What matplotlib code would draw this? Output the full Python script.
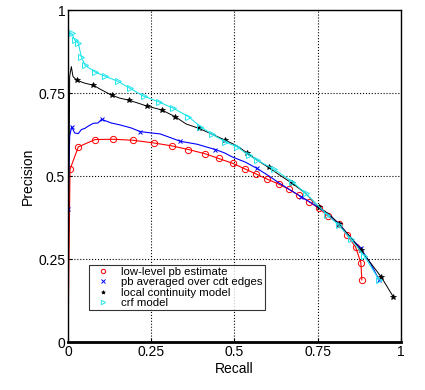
import matplotlib
matplotlib.use("Agg")
import matplotlib.pyplot as plt

plt.rcParams['font.family'] = ['Liberation Sans', 'DejaVu Sans']

labels = ["low-level pb estimate", "pb averaged over cdt edges",
          "local continuity model", "crf model"]

red_r = [0, 0, 0.006, 0.031, 0.081, 0.135, 0.195, 0.257, 0.312, 0.362, 0.413, 0.453,
         0.496, 0.533, 0.566, 0.598, 0.633, 0.664, 0.694, 0.724, 0.754, 0.781, 0.814,
         0.839, 0.864, 0.880, 0.883]
red_p = [1.0, 0, 0.52, 0.588, 0.61, 0.611, 0.608, 0.600, 0.591, 0.580, 0.567, 0.553,
         0.538, 0.521, 0.506, 0.491, 0.476, 0.460, 0.442, 0.423, 0.403, 0.380, 0.355,
         0.322, 0.287, 0.239, 0.187]

blue_r = [0, 0, 0.005, 0.011, 0.02, 0.031, 0.04, 0.051, 0.06, 0.076, 0.09, 0.101, 0.13,
          0.157, 0.19, 0.217, 0.25, 0.277, 0.31, 0.337, 0.365, 0.388, 0.415, 0.443, 0.47,
          0.493, 0.533, 0.568, 0.603, 0.633, 0.668, 0.70, 0.73, 0.757, 0.785, 0.815,
          0.844, 0.88, 0.91, 0.935]
blue_p = [0, 0.4, 0.62, 0.649, 0.63, 0.628, 0.64, 0.644, 0.65, 0.659, 0.66, 0.671, 0.66,
          0.654, 0.645, 0.634, 0.63, 0.627, 0.615, 0.605, 0.60, 0.596, 0.588, 0.580, 0.57,
          0.558, 0.542, 0.523, 0.501, 0.480, 0.458, 0.438, 0.420, 0.402, 0.383, 0.356,
          0.320, 0.282, 0.235, 0.187]

black_r = [0, 0.005, 0.01, 0.015, 0.026, 0.05, 0.076, 0.1, 0.131, 0.155, 0.182, 0.21,
           0.237, 0.26, 0.282, 0.3, 0.322, 0.355, 0.393, 0.433, 0.473, 0.508, 0.538,
           0.568, 0.603, 0.636, 0.674, 0.714, 0.754, 0.784, 0.814, 0.844, 0.880, 0.942,
           0.977]
black_p = [0, 0.80, 0.83, 0.80, 0.789, 0.78, 0.774, 0.76, 0.744, 0.735, 0.729, 0.72,
           0.711, 0.705, 0.699, 0.69, 0.679, 0.657, 0.644, 0.626, 0.608, 0.591, 0.570,
           0.548, 0.526, 0.503, 0.478, 0.448, 0.406, 0.386, 0.355, 0.322, 0.277, 0.195,
           0.137]

cyan_r = [0, 0, 0.011, 0.02, 0.031, 0.04, 0.051, 0.081, 0.111, 0.149, 0.187, 0.227,
          0.272, 0.317, 0.362, 0.398, 0.433, 0.473, 0.508, 0.543, 0.568, 0.62, 0.674,
          0.714, 0.779, 0.814, 0.85, 0.89, 0.935]
cyan_p = [0, 0.93, 0.930, 0.91, 0.900, 0.86, 0.834, 0.814, 0.801, 0.786, 0.764, 0.741,
          0.724, 0.704, 0.679, 0.649, 0.626, 0.603, 0.588, 0.563, 0.548, 0.52, 0.483,
          0.448, 0.383, 0.352, 0.31, 0.26, 0.187]

ticks = [0, 0.25, 0.5, 0.75, 1]
tick_labels = ["0", "0.25", "0.5", "0.75", "1"]

fig = plt.figure(figsize=(4.25, 3.9), dpi=100)
ax = fig.add_axes([0.16, 0.123, 0.783, 0.851])

red_marks = [i for i in range(2, len(red_r))]
blue_marks = [1, 3, 11, 15, 19, 23, 27, 31, 35, 37, 39]
black_marks = [4, 6, 8, 10, 12, 14, 16, 18, 20, 22, 24, 26, 28, 30, 32, 33, 34]
cyan_marks = list(range(1, len(cyan_r)))

cyan_col = '#22e6ee'

ax.plot(red_r, red_p, color='r', lw=0.8, marker='o', ms=4.5, mfc='none', mew=0.7,
        markevery=red_marks, label=labels[0])
ax.plot(blue_r, blue_p, color='b', lw=0.8, marker='x', ms=3.5, mew=0.7,
        markevery=blue_marks, label=labels[1])
ax.plot(black_r, black_p, color='k', lw=0.7, marker='*', ms=4, mew=0.5,
        markevery=black_marks, label=labels[2])
ax.plot(cyan_r, cyan_p, color=cyan_col, lw=0.8, marker='>', ms=4.5, mfc='none', mew=0.7,
        markevery=cyan_marks, label=labels[3])

ax.set_xlim(0, 1)
ax.set_ylim(0, 1)
ax.set_xticks(ticks)
ax.set_xticklabels(tick_labels)
ax.set_yticks(ticks)
ax.set_yticklabels(tick_labels)
ax.grid(True, linestyle=':', color='k', lw=0.8)
ax.tick_params(labelsize=10, direction='in', length=3, pad=2)
ax.set_xlabel("Recall", fontsize=10, labelpad=2)
ax.set_ylabel("Precision", fontsize=10, labelpad=2)
for s in ax.spines.values():
    s.set_linewidth(1.0)
ax.spines['bottom'].set_linewidth(2.0)

leg = ax.legend(loc='lower left', bbox_to_anchor=(0.063, 0.096), fontsize=8.2,
                frameon=True, fancybox=False, edgecolor='k', borderpad=0.2,
                labelspacing=0.02, handlelength=2.0, handletextpad=0.6,
                borderaxespad=0, markerscale=0.7)
leg.get_frame().set_linewidth(0.8)
for h in leg.get_lines():
    h.set_linestyle('none')

fig.savefig("out.png", dpi=100)
